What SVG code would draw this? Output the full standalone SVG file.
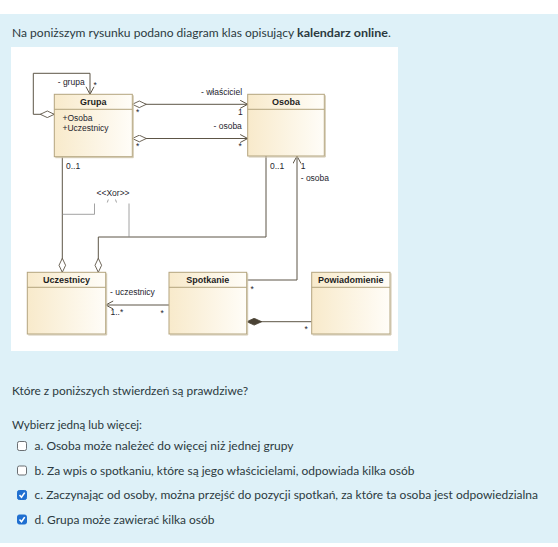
<svg xmlns="http://www.w3.org/2000/svg" width="558" height="547" viewBox="0 0 558 547">
<defs>
<linearGradient id="cls" x1="0" y1="0" x2="1" y2="0">
<stop offset="0" stop-color="#f8eacb"/>
<stop offset="1" stop-color="#fffdf8"/>
</linearGradient>
<marker id="arr" markerUnits="userSpaceOnUse" markerWidth="10" markerHeight="10" refX="8" refY="4.5" orient="auto">
<path d="M0.5,0.5 L8,4.5 L0.5,8.5" fill="none" stroke="#5d5546" stroke-width="1"/>
</marker>
<marker id="dia" markerUnits="userSpaceOnUse" markerWidth="16" markerHeight="9" refX="0.5" refY="4" orient="auto">
<path d="M0.5,4 L7.5,0.7 L14.5,4 L7.5,7.3 Z" fill="#ffffff" stroke="#5d5546" stroke-width="0.9"/>
</marker>
<marker id="comp" markerUnits="userSpaceOnUse" markerWidth="18" markerHeight="9" refX="0.5" refY="4" orient="auto">
<path d="M0.5,4 L8,0.6 L15.5,4 L8,7.4 Z" fill="#4a4234" stroke="#4a4234" stroke-width="0.8"/>
</marker>
</defs>
<style>
.body{font-family:"Lato","Open Sans","Liberation Sans",sans-serif;font-size:12px;fill:#2c3a40}
.box{fill:url(#cls);stroke:#b3a47e;stroke-width:1}
.shadow{fill:none;stroke:#d2c8b0;stroke-width:1}
.sep{stroke:#b3a47e;stroke-width:1}
.title{font-family:"Liberation Sans",Arial,sans-serif;font-size:9px;font-weight:bold;fill:#1e1e1e;text-anchor:middle}
.lbl{font-family:"Liberation Sans",Arial,sans-serif;font-size:8.5px;fill:#1e1e2e}
.ln{fill:none;stroke:#5d5546;stroke-width:1}
.xor{fill:none;stroke:#8c8c8c;stroke-width:0.8}
.cb{fill:#ffffff;stroke:#6a6f73;stroke-width:1}
.cbon{fill:#1f6fd0;stroke:#1f6fd0;stroke-width:1}
</style>
<rect x="0" y="0" width="558" height="547" fill="#ffffff"/>
<rect x="0" y="14" width="558" height="529" fill="#def1f8"/>
<text class="body" x="12" y="36.5"><tspan textLength="285" lengthAdjust="spacingAndGlyphs">Na poniższym rysunku podano diagram klas opisujący </tspan><tspan font-weight="bold" textLength="91" lengthAdjust="spacingAndGlyphs">kalendarz online</tspan><tspan>.</tspan></text>
<rect x="11" y="47" width="387" height="304" fill="#ffffff"/>

<g id="connectors">
<path class="ln" d="M54.3,114.3 H33.3 V73.3 H90 V94.3" marker-start="url(#dia)" marker-end="url(#arr)"/>
<path class="ln" d="M132.3,104.3 H247.7" marker-start="url(#dia)" marker-end="url(#arr)"/>
<path class="ln" d="M132.3,138.5 H247.7" marker-start="url(#dia)" marker-end="url(#arr)"/>
<path class="ln" d="M62.3,272.3 V156.7" marker-start="url(#dia)" stroke="#4a4234"/>
<path class="ln" d="M98.3,272.3 V237 H266 V156" marker-start="url(#dia)" stroke="#4a4234"/>
<path class="ln" d="M169,305 H105.7" marker-end="url(#arr)"/>
<path class="ln" d="M246.7,280 H297 V156" marker-end="url(#arr)"/>
<path class="ln" d="M246.7,321.7 H311.7" marker-start="url(#comp)"/>
<path class="xor" d="M62.3,214.3 H94.5 V203.5"/>
<path class="xor" d="M129,203.5 V237"/>
<path class="xor" d="M107.3,202.5 L108.3,199.5 M115.5,199.5 L116.5,202.5"/>
<text class="lbl" x="96.5" y="196" font-size="8px">&lt;&lt;Xor&gt;&gt;</text>
<text class="lbl" x="57.7" y="85">- grupa</text>
<text class="lbl" x="93.5" y="87.5">*</text>
<text class="lbl" x="201" y="95">- właściciel</text>
<text class="lbl" x="238" y="115">1</text>
<text class="lbl" x="136" y="115">*</text>
<text class="lbl" x="213.5" y="128.5">- osoba</text>
<text class="lbl" x="238.5" y="149">*</text>
<text class="lbl" x="136" y="148.5">*</text>
<text class="lbl" x="66" y="169">0..1</text>
<text class="lbl" x="270" y="169">0..1</text>
<text class="lbl" x="300.7" y="169">1</text>
<text class="lbl" x="300.7" y="180.5">- osoba</text>
<text class="lbl" x="110" y="295">- uczestnicy</text>
<text class="lbl" x="110.5" y="315">1..*</text>
<text class="lbl" x="160.5" y="315.5">*</text>
<text class="lbl" x="250.5" y="291.5">*</text>
<text class="lbl" x="304.5" y="331.5">*</text>
</g>

<g id="grupa">
<path class="shadow" d="M55.3,157.7 H133.3 V95.3"/>
<rect class="box" x="54.3" y="94.3" width="78" height="62.4"/>
<line class="sep" x1="54.3" y1="109.3" x2="132.3" y2="109.3"/>
<text class="title" x="93.3" y="105">Grupa</text>
<text class="lbl" x="62.5" y="121">+Osoba</text>
<text class="lbl" x="62.5" y="131">+Uczestnicy</text>
</g>
<g id="osoba">
<path class="shadow" d="M248.7,157 H325.3 V95.3"/>
<rect class="box" x="247.7" y="94.3" width="76.6" height="61.7"/>
<line class="sep" x1="247.7" y1="109.3" x2="324.3" y2="109.3"/>
<text class="title" x="286" y="105">Osoba</text>
</g>
<g id="uczestnicy">
<path class="shadow" d="M28.3,335 H106.7 V273.3"/>
<rect class="box" x="27.3" y="272.3" width="78.4" height="61.7"/>
<line class="sep" x1="27.3" y1="287.3" x2="105.7" y2="287.3"/>
<text class="title" x="66.5" y="282.5">Uczestnicy</text>
</g>
<g id="spotkanie">
<path class="shadow" d="M170,335 H247.7 V273.3"/>
<rect class="box" x="169" y="272.3" width="77.7" height="61.7"/>
<line class="sep" x1="169" y1="287.3" x2="246.7" y2="287.3"/>
<text class="title" x="207.8" y="282.5">Spotkanie</text>
</g>
<g id="powiadomienie">
<path class="shadow" d="M312.7,335 H391 V273.3"/>
<rect class="box" x="311.7" y="272.3" width="78.3" height="61.7"/>
<line class="sep" x1="311.7" y1="287.3" x2="390" y2="287.3"/>
<text class="title" x="350.8" y="282.5">Powiadomienie</text>
</g>

<text class="body" x="12" y="394.5" textLength="236" lengthAdjust="spacingAndGlyphs">Które z poniższych stwierdzeń są prawdziwe?</text>
<text class="body" x="12" y="429" textLength="130" lengthAdjust="spacingAndGlyphs">Wybierz jedną lub więcej:</text>
<rect class="cb" x="17.5" y="441.5" width="9" height="9" rx="1.8"/>
<text class="body" x="34.5" y="450" textLength="259" lengthAdjust="spacingAndGlyphs">a. Osoba może należeć do więcej niż jednej grupy</text>
<rect class="cb" x="17.5" y="466" width="9" height="9" rx="1.8"/>
<text class="body" x="34.5" y="474.5" textLength="380" lengthAdjust="spacingAndGlyphs">b. Za wpis o spotkaniu, które są jego właścicielami, odpowiada kilka osób</text>
<rect class="cbon" x="17.5" y="490.5" width="9" height="9" rx="1.8"/>
<path d="M19.5,495 L21.5,497.2 L24.7,492.6" fill="none" stroke="#ffffff" stroke-width="1.6"/>
<text class="body" x="34.5" y="499" textLength="503.5" lengthAdjust="spacingAndGlyphs">c. Zaczynając od osoby, można przejść do pozycji spotkań, za które ta osoba jest odpowiedzialna</text>
<rect class="cbon" x="17.5" y="515" width="9" height="9" rx="1.8"/>
<path d="M19.5,519.5 L21.5,521.7 L24.7,517.1" fill="none" stroke="#ffffff" stroke-width="1.6"/>
<text class="body" x="34.5" y="523.5" textLength="180" lengthAdjust="spacingAndGlyphs">d. Grupa może zawierać kilka osób</text>
</svg>
